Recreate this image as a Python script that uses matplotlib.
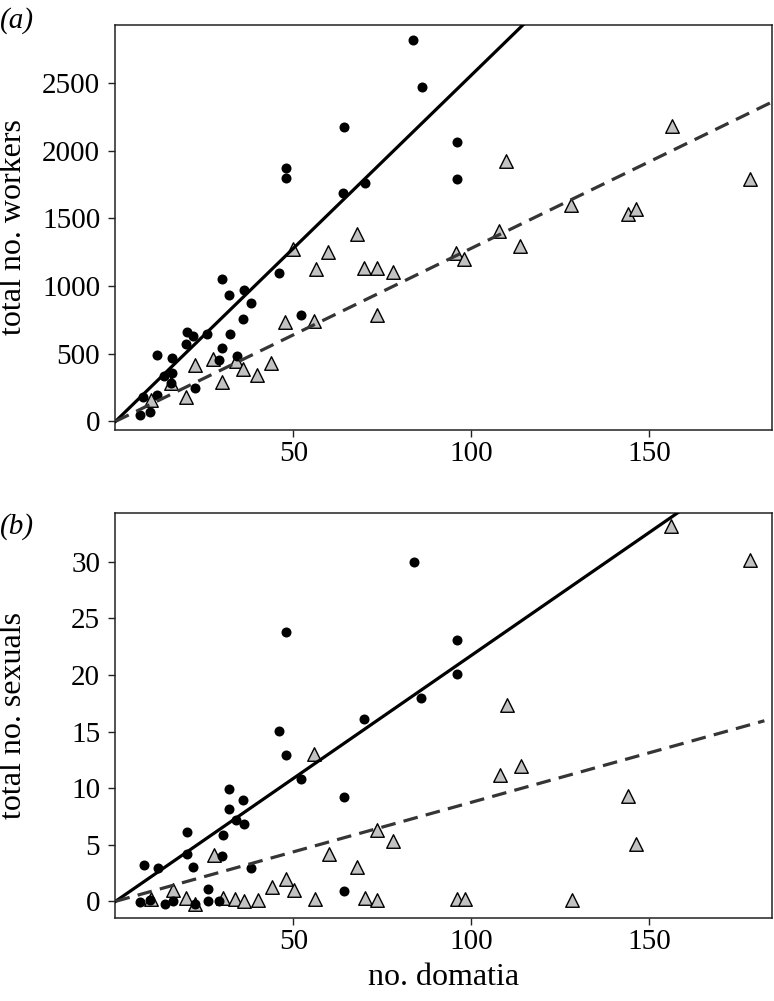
import numpy as np
import matplotlib
matplotlib.use('Agg')
import matplotlib.pyplot as plt

plt.rcParams['font.family'] = ['Liberation Serif', 'DejaVu Serif']

# panel (a): workers
wk_dot_x = [64.2, 48.0, 48.0, 64.0, 70.2, 46.0, 52.2, 29.9, 31.9, 36.0, 38.0, 35.8,
            32.1, 25.7, 20.0, 21.9, 19.7, 11.8, 29.9, 29.0, 34.0, 15.9, 15.9, 13.6,
            15.7, 22.2, 11.8, 7.7, 6.9, 9.7, 83.7, 86.1, 95.9, 95.9]
wk_dot_y = [2177, 1871, 1800, 1691, 1760, 1099, 784, 1050, 932, 971, 873, 757,
            648, 648, 658, 633, 569, 490, 544, 453, 483, 466, 355, 335,
            281, 249, 195, 182, 47, 69, 2820, 2470, 2066, 1792]
wk_tri_x = [50.0, 59.8, 67.9, 56.2, 69.9, 73.6, 47.7, 55.8, 73.5, 27.4, 33.9, 22.2,
            43.7, 35.8, 39.8, 29.8, 19.9, 10.0, 15.7, 156.3, 109.8, 178.2, 128.1,
            143.9, 146.1, 107.8, 113.7, 95.8, 97.9, 78.0]
wk_tri_y = [1272, 1250, 1383, 1129, 1136, 1136, 737, 742, 784, 459, 448, 414,
            433, 389, 345, 293, 180, 158, 281, 2184, 1925, 1792, 1600,
            1531, 1570, 1408, 1297, 1243, 1200, 1102]

# panel (b): sexuals
sx_dot_x = [47.9, 46.0, 47.9, 52.1, 69.9, 64.2, 64.2, 31.9, 31.9, 35.8, 33.8, 36.1,
            30.1, 20.0, 20.1, 21.9, 29.9, 38.0, 8.0, 11.9, 26.0, 6.9, 9.7, 13.9,
            16.1, 22.3, 26.0, 29.1, 83.9, 95.9, 96.0, 85.9]
sx_dot_y = [23.8, 15.07, 12.9, 10.83, 16.1, 9.19, 0.91, 9.92, 8.15, 8.95, 7.18, 6.83,
            5.86, 6.09, 4.18, 3.03, 3.97, 2.91, 3.18, 2.94, 1.06, -0.1, 0.11, -0.2,
            0.0, -0.2, 0.05, 0.05, 29.95, 23.08, 20.08, 17.99]
sx_tri_x = [55.8, 27.8, 60.1, 67.9, 16.1, 47.9, 43.9, 50.2, 10.0, 19.8, 30.1, 33.6,
            36.1, 39.9, 56.1, 70.0, 73.6, 22.3, 73.6, 156.1, 178.2, 110.1, 114.0,
            108.1, 143.9, 146.2, 78.0, 95.9, 98.2, 128.2]
sx_tri_y = [13.0, 4.06, 4.18, 3.06, 1.02, 2.0, 1.26, 1.02, 0.2, 0.32, 0.32, 0.18,
            0.0, 0.11, 0.2, 0.3, 0.11, -0.2, 6.3, 33.15, 30.15, 17.34, 11.98,
            11.2, 9.27, 5.09, 5.3, 0.23, 0.2, 0.14]

# fitted slopes (lines through origin): solid = dots, dashed = triangles
wk_slopes = [25.6, 12.8]
sx_slopes = [0.2173, 0.0875]

fig = plt.figure(figsize=(7.74, 10.01), dpi=100)
ax_a = fig.add_axes([0.1492, 0.5704, 0.8485, 0.4046])
ax_b = fig.add_axes([0.1492, 0.0826, 0.8485, 0.4052])

tri_fc = '#c2c2c2'
dash_col = '#353535'


def panel(ax, dx, dy, tx, ty, slopes, xend_dash, ylim, yticks, ylabel, tag, tag_y):
    ax.scatter(tx, ty, marker='^', s=95, facecolor=tri_fc, edgecolor='black',
               linewidths=1.0, zorder=2)
    ax.scatter(dx, dy, marker='o', s=52, color='black', linewidths=0, zorder=3)
    xs = np.array([0, 200])
    ax.plot(xs, slopes[0] * xs, color='black', lw=2.3, zorder=4)
    xd = np.array([0, xend_dash])
    ax.plot(xd, slopes[1] * xd, color=dash_col, lw=2.3, dashes=(4.6, 2.6), zorder=4)
    ax.set_xlim(0, 184.5)
    ax.set_ylim(*ylim)
    ax.set_xticks([50, 100, 150])
    ax.set_yticks(yticks)
    ax.tick_params(direction='out', length=5, width=1.0, labelsize=21,
                   color='#222222')
    ax.tick_params(axis='y', pad=6)
    ax.tick_params(axis='x', pad=3)
    for sp in ax.spines.values():
        sp.set_linewidth(1.1)
        sp.set_color('#222222')
    ax.set_ylabel(ylabel, fontsize=23, va='center')
    ax.yaxis.set_label_coords(-0.156, 0.5)
    ax.text(-0.150, tag_y, tag, transform=ax.transAxes, fontsize=21,
            style='italic', ha='center', va='center')


panel(ax_a, wk_dot_x, wk_dot_y, wk_tri_x, wk_tri_y, wk_slopes, 200,
      (-64, 2930), [0, 500, 1000, 1500, 2000, 2500], 'total no. workers', '(a)', 1.012)
panel(ax_b, sx_dot_x, sx_dot_y, sx_tri_x, sx_tri_y, sx_slopes, 182.3,
      (-1.5, 34.33), [0, 5, 10, 15, 20, 25, 30], 'total no. sexuals', '(b)', 0.965)

ax_b.set_xlabel('no. domatia', fontsize=23)
ax_b.xaxis.set_label_coords(0.5, -0.145)
ax_b.xaxis.label.set_verticalalignment('center')

fig.savefig('out.png', dpi=100)
